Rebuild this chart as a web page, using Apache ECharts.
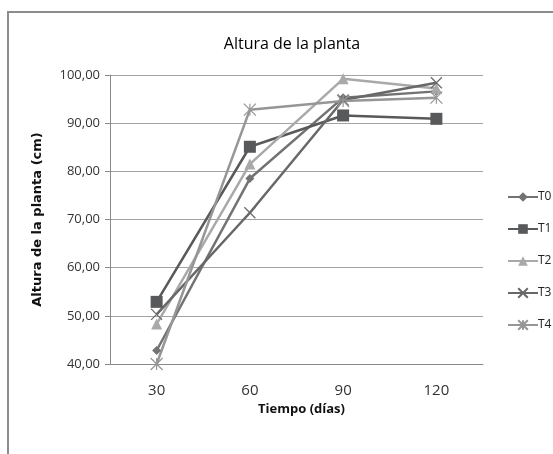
<!DOCTYPE html>
<html>
<head>
<meta charset="utf-8">
<script src="https://cdn.jsdelivr.net/npm/echarts@6/dist/echarts.min.js"></script>
<style>html,body{margin:0;padding:0;background:#fff}#c{width:553px;height:454px}</style>
</head>
<body>
<div id="c"></div>
<script>
const categories = ['30', '60', '90', '120'];
const seriesNames = ['T0', 'T1', 'T2', 'T3', 'T4'];
const T0 = [42.8, 78.5, 95.3, 96.6];
const T1 = [52.9, 85.1, 91.6, 90.9];
const T2 = [48.3, 81.5, 99.2, 97.2];
const T3 = [50.3, 71.4, 94.8, 98.4];
const T4 = [40.0, 92.8, 94.6, 95.3];
const yTicks = [40, 50, 60, 70, 80, 90, 100];

const values = [T0, T1, T2, T3, T4];
const colors = ['#737373', '#58595b', '#a9a9a9', '#686868', '#969696'];
const symbols = [
  'diamond',
  'rect',
  'triangle',
  'path://M0,0L10,10M10,0L0,10',
  'path://M0,0L10,10M10,0L0,10M5,0L5,10'
];
const symbolSizes = [9, 12, 11, 11, 12];

const font = 'Open Sans';
const chart = echarts.init(document.getElementById('c'));
chart.setOption({
  animation: false,
  backgroundColor: '#fff',
  title: {
    text: 'Altura de la planta',
    left: 287, top: 31, textAlign: 'center',
    textStyle: { fontFamily: font, fontSize: 16, fontWeight: 'normal', color: '#000' }
  },
  graphic: [{
    type: 'polyline', silent: true,
    shape: { points: [[8, 460], [8, 12], [560, 12]] },
    style: { stroke: '#8c8c8c', lineWidth: 2, fill: null }
  }],
  legend: {
    orient: 'vertical', left: 502, top: 186,
    itemWidth: 30, itemHeight: 12, itemGap: 20,
    textStyle: { fontFamily: font, fontSize: 12, color: '#222', padding: [0, 0, 0, -5] },
    data: seriesNames
  },
  grid: { left: 110, right: 70, top: 75, bottom: 90 },
  xAxis: {
    type: 'category', data: categories, boundaryGap: true,
    name: 'Tiempo (días)', nameLocation: 'middle', nameGap: 34,
    nameTextStyle: { fontFamily: font, fontSize: 13, fontWeight: 'bold', color: '#111', padding: [0, 0, 0, 10] },
    axisLine: { lineStyle: { color: '#8a8a8a', width: 1 } },
    axisTick: { show: false },
    axisLabel: { fontFamily: font, fontSize: 15, color: '#333', margin: 19 }
  },
  yAxis: {
    type: 'value', min: 40, max: 100, interval: 10,
    name: 'Altura de la planta (cm)', nameLocation: 'middle', nameGap: 66,
    nameTextStyle: { fontFamily: 'DejaVu Sans', fontSize: 13, fontWeight: 'bold', color: '#111' },
    axisLine: { show: true, lineStyle: { color: '#8a8a8a', width: 1 } },
    axisTick: { show: true, length: 5, lineStyle: { color: '#8a8a8a' } },
    axisLabel: {
      fontFamily: font, fontSize: 13, color: '#333', margin: 10,
      formatter: v => yTicks.includes(v) ? v.toFixed(2).replace('.', ',') : ''
    },
    splitLine: { lineStyle: { color: '#a3a3a3', width: 1 } }
  },
  series: seriesNames.map((n, i) => ({
    name: n, type: 'line', data: values[i],
    symbol: symbols[i], symbolSize: symbolSizes[i],
    lineStyle: { color: colors[i], width: 2.5 },
    itemStyle: {
      color: colors[i],
      borderColor: colors[i],
      borderWidth: i >= 3 ? 1.2 : 0
    }
  }))
});
</script>
</body>
</html>
